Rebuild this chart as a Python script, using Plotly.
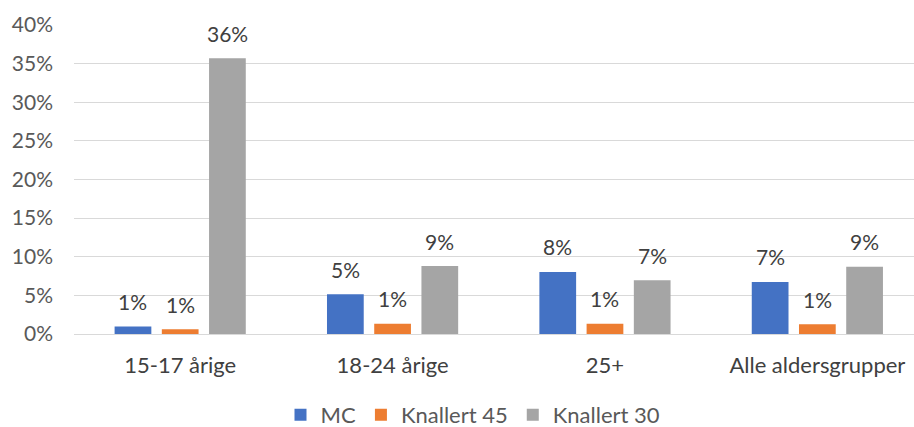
import plotly.graph_objects as go

categories = ["15-17 årige", "18-24 årige", "25+", "Alle aldersgrupper"]
mc = [0.0097, 0.0515, 0.0804, 0.0674]
knallert45 = [0.0062, 0.0134, 0.0134, 0.0126]
knallert30 = [0.357, 0.088, 0.0696, 0.0869]
series_names = ["MC", "Knallert 45", "Knallert 30"]
colors = ["#4472C4", "#ED7D31", "#A5A5A5"]
y_ticks = [0, 0.05, 0.10, 0.15, 0.20, 0.25, 0.30, 0.35, 0.40]

FONT = "Lato"
NUM_FS = 21
LBL_FS = 22
SLOT_PX = 47.25  # horizontal pixel offset between bars within a group

fig = go.Figure()
all_series = [mc, knallert45, knallert30]
for i, (name, vals, col) in enumerate(zip(series_names, all_series, colors)):
    fig.add_trace(go.Bar(
        x=categories, y=vals, name=name,
        marker=dict(color=col, line=dict(width=0)),
        cliponaxis=False, hoverinfo="skip",
    ))
    for cat, v in zip(categories, vals):
        fig.add_annotation(
            x=cat, y=v, text=f"{v:.0%}", showarrow=False,
            xshift=(i - 1) * SLOT_PX, yshift=25, yanchor="middle",
            font=dict(family=FONT, size=NUM_FS, color="#404040"),
        )

fig.update_layout(
    width=914, height=427,
    margin=dict(l=74, r=0, t=25, b=93, autoexpand=False),
    paper_bgcolor="white", plot_bgcolor="white",
    barmode="group", bargap=0.333, bargroupgap=0.222,
    font=dict(family=FONT, size=LBL_FS, color="#595959"),
    legend=dict(orientation="h", x=0.475, xanchor="center", y=-0.262, yanchor="middle",
                font=dict(family=FONT, size=LBL_FS, color="#595959"),
                itemwidth=30, traceorder="normal"),
    showlegend=True,
)
fig.update_yaxes(range=[0, 0.40], tickvals=y_ticks, tickformat=".0%",
                 showgrid=True, gridcolor="#D9D9D9", gridwidth=1,
                 zeroline=False, showline=False, ticklabelstandoff=20,
                 automargin=False,
                 tickfont=dict(family=FONT, size=NUM_FS, color="#595959"))
fig.update_xaxes(range=[-0.5, 3.455], showline=True, linecolor="#D9D9D9", linewidth=1,
                 ticklabelstandoff=12, automargin=False,
                 tickfont=dict(family=FONT, size=LBL_FS, color="#404040"))

fig.write_html("out.html", config={"displayModeBar": False},
               post_script="document.body.style.margin='0px';")
